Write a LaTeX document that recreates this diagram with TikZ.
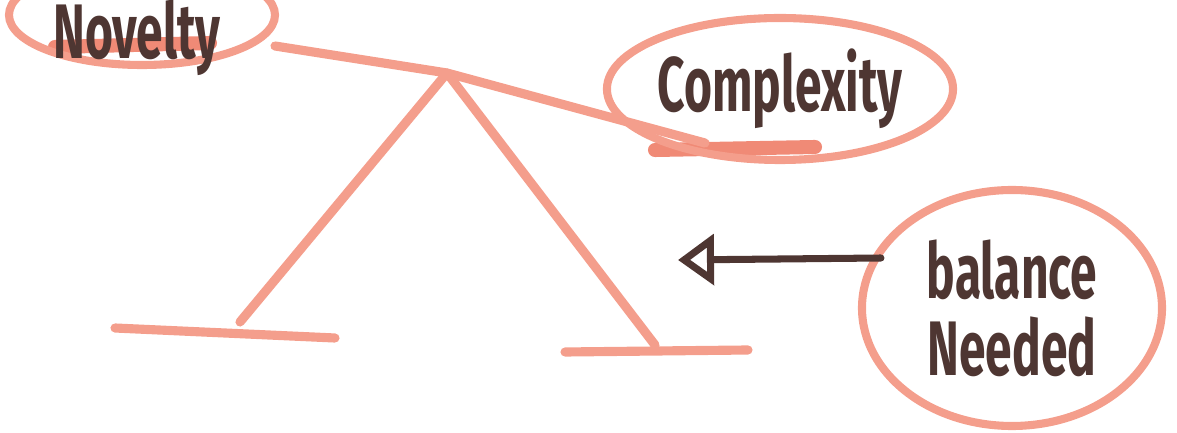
\documentclass[tikz,border=0pt]{standalone}
\usepackage{fontspec}
\newfontfamily\handfont[FakeStretch=0.62]{Fira Sans}
\usepackage{xcolor}
\usepackage{tikz}
\usetikzlibrary{shapes.geometric}
\usetikzlibrary{arrows.meta}
\definecolor{marker}{RGB}{244,158,140}
\definecolor{markerdark}{RGB}{240,138,118}
\definecolor{ink}{RGB}{78,54,50}

\begin{document}
\begin{tikzpicture}[
  pen/.style={draw=marker,line width=2.6pt,line cap=round,line join=round},
  word/.style={font=\handfont\bfseries\fontsize{22}{22}\selectfont,text=ink,align=center,inner sep=0pt},
  ring/.style={word,ellipse,draw=marker,line width=2.3pt},
  plate/.style={draw=markerdark,line width=4pt,line cap=round},
  inkarrow/.style={draw=ink,line width=2pt,line cap=round,
    -{Triangle[open,length=3.6mm,width=5mm,line width=2pt]}}]
\useasboundingbox (0,0) rectangle (11.77,4.33);
\draw[plate] (0.55,3.86) -- (2.10,3.90);
\draw[plate] (6.55,2.83) -- (8.15,2.86);
\node[ring,minimum width=2.66cm,minimum height=1.0cm] (novelty) at (1.42,4.18) {};
\node[word] (novelty text) at ([xshift=-0.5mm,yshift=-2.3mm]novelty.center) {Novelty};
\node[ring,minimum width=3.33cm,minimum height=1.42cm] (complexity) at (7.80,3.44) {Complexity};
\node[ring,minimum width=3.0cm,minimum height=2.36cm] (balance) at (10.12,1.25) {balance\\Needed};
\coordinate (pivot) at (4.47,3.60);
\coordinate (lfoot) at (2.40,1.11);
\coordinate (rfoot) at (6.55,0.88);
\coordinate (target) at (6.78,1.73);
\draw[pen] (2.75,3.87) -- (pivot) -- (7.05,2.90);
\draw[pen] (lfoot) -- (pivot) -- (rfoot);
\draw[pen] (1.15,1.05) -- (3.35,0.95);
\draw[pen] (5.65,0.81) -- (7.48,0.83);
\draw[inkarrow] ([xshift=2.3mm,yshift=5mm]balance.west) -- (target);
\end{tikzpicture}
\end{document}
